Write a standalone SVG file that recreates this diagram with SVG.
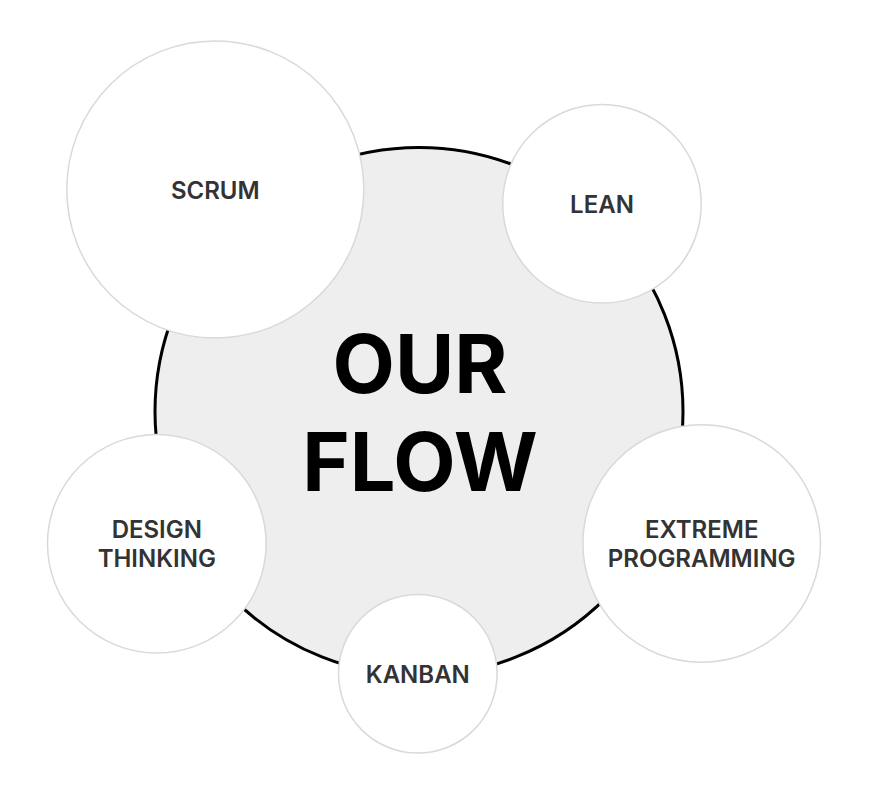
<svg xmlns="http://www.w3.org/2000/svg" width="869" height="794" viewBox="0 0 869 794">
<style>
.hub{fill:#eeeeee;stroke:#000;stroke-width:3}
.node{fill:#fff;stroke:#d9d9d9;stroke-width:1.5}
.lbl{font-family:Inter,"Liberation Sans",sans-serif;font-weight:600;font-size:24px;fill:#333;text-anchor:middle}
.title{font-family:Inter,"Liberation Sans",sans-serif;font-weight:700;font-size:81px;fill:#000;text-anchor:middle}
</style>
<rect width="869" height="794" fill="#fff"/>
<g id="connectors"></g>
<g id="hub">
<circle class="hub" cx="419" cy="411.5" r="264"/>
<text class="title" x="420" y="393.3">OUR</text>
<text class="title" x="420" y="490.7">FLOW</text>
</g>
<g id="scrum">
<circle class="node" cx="215.3" cy="189.5" r="148.5"/>
<text class="lbl" x="215.3" y="199.3">SCRUM</text>
</g>
<g id="lean">
<circle class="node" cx="602" cy="203.8" r="99.3"/>
<text class="lbl" x="602" y="213.3">LEAN</text>
</g>
<g id="design-thinking">
<circle class="node" cx="156.8" cy="543.8" r="109.3"/>
<text class="lbl" x="156.8" y="537.7">DESIGN</text>
<text class="lbl" x="156.8" y="566.7">THINKING</text>
</g>
<g id="extreme-programming">
<circle class="node" cx="701.7" cy="543.5" r="118.8"/>
<text class="lbl" x="701.7" y="538.3">EXTREME</text>
<text class="lbl" x="701.7" y="566.7">PROGRAMMING</text>
</g>
<g id="kanban">
<circle class="node" cx="417.8" cy="673.8" r="79.3"/>
<text class="lbl" x="417.8" y="683.3">KANBAN</text>
</g>
</svg>
